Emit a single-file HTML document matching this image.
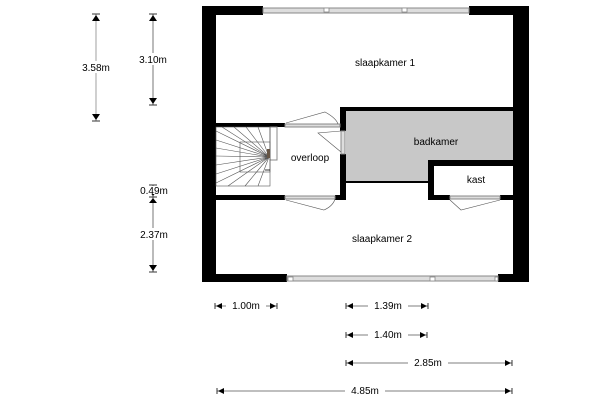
<!DOCTYPE html>
<html><head><style>html,body{margin:0;padding:0;background:#fff}svg{display:block}</style></head><body>
<svg width="600" height="400" viewBox="0 0 600 400" xmlns="http://www.w3.org/2000/svg" font-family="Liberation Sans, sans-serif">
<rect x="216" y="15" width="297" height="259" fill="#fff"/>
<rect x="346" y="110" width="167" height="72" fill="#c8c8c8"/>
<rect x="428" y="161" width="85" height="38" fill="#fff"/>
<g fill="#000">
<rect x="202" y="6" width="14" height="276"/>
<rect x="513" y="6" width="16" height="276"/>
<rect x="202" y="6" width="61" height="9"/>
<rect x="469" y="6" width="60" height="9"/>
<rect x="202" y="274" width="85" height="8"/>
<rect x="498" y="274" width="31" height="8"/>
<rect x="216" y="123" width="69" height="4"/>
<rect x="340" y="107" width="173" height="4"/>
<rect x="340" y="107" width="6" height="24"/>
<rect x="340" y="154" width="6" height="46"/>
<rect x="346" y="181" width="82" height="2"/>
<rect x="216" y="195" width="69" height="5"/>
<rect x="335" y="195" width="11" height="5"/>
<rect x="428" y="160" width="85" height="6"/>
<rect x="428" y="160" width="6" height="40"/>
<rect x="428" y="195" width="22" height="5"/>
<rect x="500" y="195" width="13" height="5"/>
</g>
<g stroke="#888" fill="#ddd" stroke-width="1">
<rect x="263" y="8" width="206" height="5"/>
<rect x="287" y="276" width="211" height="5"/>
<rect x="285" y="124" width="55" height="3"/>
<rect x="285" y="196" width="50" height="3"/>
<rect x="450" y="196" width="50" height="3"/>
<rect x="341" y="131" width="4" height="23"/>
<rect x="270" y="127" width="7" height="33" fill="#fff"/>
</g>
<g fill="#fff" stroke="#888" stroke-width="0.8">
<rect x="324" y="8" width="5" height="4"/><rect x="402" y="8" width="5" height="4"/>
<rect x="288" y="277" width="5" height="4"/><rect x="430" y="277" width="5" height="4"/><rect x="495" y="277" width="3" height="4"/>
</g>
<g fill="none" stroke="#555" stroke-width="0.6">
<path d="M286 123 L325 112 Q336 118 338 124"/>
<path d="M286 200 L324 210 Q333 206 335 199"/>
<path d="M341 131 L318 133 L341 152"/>
<path d="M450 200 L461 210 L500 200"/>
</g>
<g stroke="#555" stroke-width="0.6" fill="none">
<rect x="216" y="127" width="54" height="59"/>
<rect x="240" y="142" width="30" height="30"/>
<path d="M216 131 L269 157 M222 127 L269 157 M234 127 L269 157 M246 127 L269 157 M258 127 L269 157 M216 140 L269 157 M216 148 L269 157 M216 156 L269 157 M216 165 L269 157 M216 174 L269 157 M216 183 L269 157 M228 186 L269 157 M245 186 L269 157 M258 186 L269 157"/>
</g>
<rect x="267" y="149" width="3" height="9" fill="#654"/>
<path d="M265 170 L270 170" stroke="#000" stroke-width="0.8"/>
<g font-size="10" fill="#000" text-anchor="middle">
<text x="385" y="66">slaapkamer 1</text>
<text x="436" y="145">badkamer</text>
<text x="310" y="161">overloop</text>
<text x="476" y="183">kast</text>
<text x="382" y="242">slaapkamer 2</text>
</g>
<g stroke="#000" stroke-width="0.8" fill="#000">
<line x1="96" y1="14" x2="96" y2="121" stroke="#888"/>
<line x1="92" y1="14" x2="100" y2="14"/><line x1="92" y1="121" x2="100" y2="121"/>
<path d="M96 15 L92 21 L100 21Z M96 120 L92 114 L100 114Z" stroke="none"/>
<line x1="153" y1="14" x2="153" y2="105" stroke="#555"/>
<line x1="149" y1="14" x2="157" y2="14"/><line x1="149" y1="105" x2="157" y2="105"/>
<path d="M153 15 L149 21 L157 21Z M153 104 L149 98 L157 98Z" stroke="none"/>
<line x1="153" y1="185" x2="153" y2="272" stroke="#555"/>
<line x1="149" y1="185" x2="157" y2="185"/><line x1="149" y1="197" x2="157" y2="197"/><line x1="149" y1="272" x2="157" y2="272"/>
<path d="M153 196 L149 191 L157 191Z M153 198 L149 203 L157 203Z M153 271 L149 265 L157 265Z" stroke="none"/>
</g>
<g font-size="10" fill="#000" text-anchor="middle">
<rect x="76" y="61" width="40" height="12" fill="#fff"/>
<text x="96" y="71">3.58m</text>
<rect x="134" y="53" width="38" height="12" fill="#fff"/>
<text x="153" y="63">3.10m</text>
<rect x="136" y="186" width="36" height="8" fill="#fff"/>
<text x="154" y="194">0.49m</text>
<rect x="134" y="228" width="38" height="12" fill="#fff"/>
<text x="154" y="238">2.37m</text>
</g>
<g stroke="#000" stroke-width="0.8" fill="#000">
<g transform="translate(0,306)"><line x1="215" y1="0" x2="277" y2="0" stroke="#555"/><line x1="215" y1="-3" x2="215" y2="3"/><line x1="277" y1="-3" x2="277" y2="3"/><path d="M216 0 L222 -3 L222 3Z M276 0 L270 -3 L270 3Z" stroke="none"/></g>
<g transform="translate(0,306)"><line x1="346" y1="0" x2="428" y2="0" stroke="#555"/><line x1="346" y1="-3" x2="346" y2="3"/><line x1="428" y1="-3" x2="428" y2="3"/><path d="M347 0 L353 -3 L353 3Z M427 0 L421 -3 L421 3Z" stroke="none"/></g>
<g transform="translate(0,335)"><line x1="346" y1="0" x2="427" y2="0" stroke="#555"/><line x1="346" y1="-3" x2="346" y2="3"/><line x1="427" y1="-3" x2="427" y2="3"/><path d="M347 0 L353 -3 L353 3Z M426 0 L420 -3 L420 3Z" stroke="none"/></g>
<g transform="translate(0,363)"><line x1="346" y1="0" x2="512" y2="0" stroke="#555"/><line x1="346" y1="-3" x2="346" y2="3"/><line x1="512" y1="-3" x2="512" y2="3"/><path d="M347 0 L353 -3 L353 3Z M511 0 L505 -3 L505 3Z" stroke="none"/></g>
<g transform="translate(0,391)"><line x1="217" y1="0" x2="512" y2="0" stroke="#555"/><line x1="217" y1="-3" x2="217" y2="3"/><line x1="512" y1="-3" x2="512" y2="3"/><path d="M218 0 L224 -3 L224 3Z M511 0 L505 -3 L505 3Z" stroke="none"/></g>
</g>
<g font-size="10" fill="#000" text-anchor="middle">
<rect x="226" y="299" width="40" height="12" fill="#fff"/><text x="246" y="309">1.00m</text>
<rect x="368" y="299" width="40" height="12" fill="#fff"/><text x="388" y="309">1.39m</text>
<rect x="368" y="328" width="40" height="12" fill="#fff"/><text x="388" y="338">1.40m</text>
<rect x="408" y="356" width="40" height="12" fill="#fff"/><text x="428" y="366">2.85m</text>
<rect x="345" y="384" width="40" height="12" fill="#fff"/><text x="365" y="394">4.85m</text>
</g>
</svg>
</body></html>
